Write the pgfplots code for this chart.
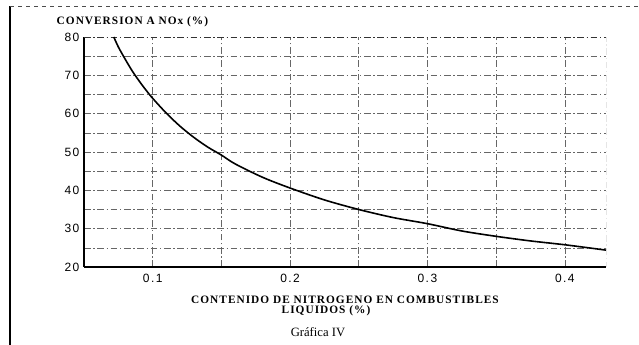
\documentclass[border=0pt]{standalone}
\usepackage{pgfplots}
\pgfplotsset{compat=1.18}
\usepackage{fontspec}
\setmainfont{Liberation Serif}
\setsansfont{Liberation Sans}
\newfontfamily\lab[LetterSpace=9]{Liberation Serif}
\newfontfamily\tickf[LetterSpace=12]{Liberation Sans}
\begin{document}
\begin{tikzpicture}[x=0.75pt,y=0.75pt]
\useasboundingbox (0,0) rectangle (639,345);
\draw[line width=0.8pt] (10,0) -- (10,339);
\draw[line width=0.5pt, black!70, dashed] (10,339) -- (639,339);
\begin{axis}[
  at={(63pt,58.5pt)}, anchor=south west,
  scale only axis, width=391.5pt, height=172.5pt,
  xmin=0.05, xmax=0.43, ymin=20, ymax=80,
  axis lines=left, axis line style={-, line width=0.8pt},
  xtick={0.1,0.2,0.3,0.4}, xticklabels={0.1,0.2,0.3,0.4},
  minor xtick={0.05,0.15,0.25,0.35},
  ytick={20,30,40,50,60,70,80}, yticklabels={20,30,40,50,60,70,80},
  minor ytick={25,35,45,55,65,75},
  grid=both,
  grid style={black!60, line width=0.4pt, dash pattern=on 5pt off 2pt on 1pt off 2pt},
  minor grid style={black!60, line width=0.4pt, dash pattern=on 5pt off 2pt on 1pt off 2pt},
  major tick length=0pt, minor tick length=0pt,
  ticklabel style={font=\tickf\fontsize{9}{10}\selectfont},
  xticklabel style={yshift=-2pt},
  clip=true,
]
\draw[black!80, line width=0.6pt, dash pattern=on 5pt off 2pt on 1pt off 2pt] (rel axis cs:0,1) -- (rel axis cs:1,1) -- (rel axis cs:1,0);
\addplot[black, line width=1.2pt, smooth] coordinates {
(0.0717,80) (0.075,77.4) (0.08,74.2) (0.085,71.2) (0.09,68.6) (0.095,66.2)
(0.10,64.0) (0.11,60.1) (0.12,56.7) (0.13,53.8) (0.14,51.3) (0.15,49.2)
(0.16,46.9) (0.18,43.4) (0.20,40.6) (0.225,37.5) (0.25,35.0) (0.275,32.9)
(0.30,31.3) (0.325,29.4) (0.35,28.0) (0.375,26.8) (0.40,25.8) (0.43,24.4)};
\end{axis}
\node[anchor=west, font=\lab\bfseries\fontsize{8.5}{10}\selectfont] at (52,323) {CONVERSION A NOx (\%)};
\node[font=\lab\bfseries\fontsize{8.5}{10}\selectfont] at (345,45) {CONTENIDO DE NITROGENO EN COMBUSTIBLES};
\node[font=\lab\bfseries\fontsize{8.5}{10}\selectfont] at (326,34) {LIQUIDOS (\%)};
\node[font=\rmfamily\fontsize{9.5}{11}\selectfont] at (318,13) {Gráfica IV};
\end{tikzpicture}
\end{document}
